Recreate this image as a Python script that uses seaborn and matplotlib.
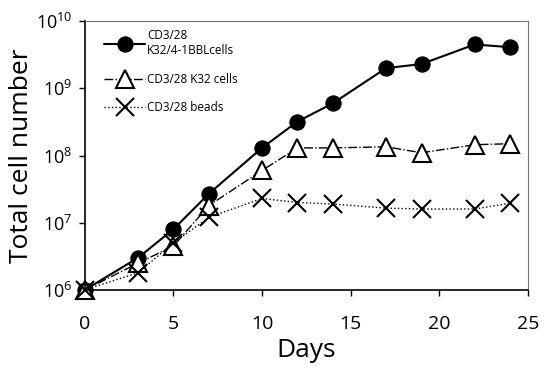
import numpy as np
import matplotlib.pyplot as plt
import matplotlib.ticker as mticker
import pandas as pd
import seaborn as sns

days = [0, 3, 5, 7, 10, 12, 14, 17, 19, 22, 24]
bbl_cells = [1.0e6, 3.0e6, 8.0e6, 2.7e7, 1.3e8, 3.2e8, 6.0e8, 2.0e9, 2.3e9, 4.5e9, 4.1e9]
k32_cells = [1.0e6, 2.5e6, 4.5e6, 1.8e7, 6.0e7, 1.3e8, 1.3e8, 1.35e8, 1.1e8, 1.45e8, 1.5e8]
beads = [1.0e6, 1.8e6, 5.0e6, 1.2e7, 2.3e7, 2.0e7, 1.9e7, 1.65e7, 1.6e7, 1.6e7, 1.95e7]
labels = ['CD3/28\nK32/4-1BBLcells', 'CD3/28 K32 cells', 'CD3/28 beads']

df = pd.DataFrame({'day': days * 3,
                   'cells': bbl_cells + k32_cells + beads,
                   'group': [labels[0]] * len(days) + [labels[1]] * len(days) + [labels[2]] * len(days)})

sns.set_style('ticks', {'text.color': 'black', 'axes.labelcolor': 'black',
                        'xtick.color': 'black', 'ytick.color': 'black'})
plt.rcParams['font.family'] = ['Open Sans', 'DejaVu Sans']

fig = plt.figure(figsize=(5.47, 3.78), dpi=100)
ax = fig.add_axes([0.155, 0.233, 0.81, 0.711])

styles = {
    labels[0]: dict(linestyle='-', marker='o', markersize=11, markerfacecolor='black',
                    markeredgecolor='black', linewidth=1.5),
    labels[1]: dict(linestyle='-.', marker='^', markersize=13, markerfacecolor='white',
                    markeredgecolor='black', markeredgewidth=1.5, linewidth=1.0),
    labels[2]: dict(linestyle=':', marker='x', markersize=13, markeredgecolor='black',
                    markeredgewidth=1.5, linewidth=1.0),
}
for g in labels:
    sub = df[df['group'] == g]
    sns.lineplot(data=sub, x='day', y='cells', ax=ax, color='black', label=g,
                 clip_on=False, **styles[g])

ax.set_yscale('log')
ax.set_xlim(0, 25)
ax.set_ylim(1e6, 1e10)
ax.xaxis.set_major_locator(mticker.MultipleLocator(5))
ax.yaxis.set_major_locator(mticker.LogLocator(base=10, numticks=10))
ax.yaxis.set_minor_locator(mticker.NullLocator())
ax.tick_params(axis='both', length=4, width=1, direction='out')
ax.tick_params(axis='x', labelsize=14, pad=14)
ax.tick_params(axis='y', labelsize=13, pad=5)

for s in ['left', 'bottom']:
    ax.spines[s].set_color('black')
    ax.spines[s].set_linewidth(1.2)
for s in ['top', 'right']:
    ax.spines[s].set_color('#777777')
    ax.spines[s].set_linewidth(0.8)

ax.set_xlabel('Days', fontsize=19, labelpad=4)
ax.set_ylabel('Total cell number', fontsize=19, labelpad=1)

leg = ax.legend(loc='upper left', frameon=False, fontsize=8.5, handlelength=3.5,
                labelspacing=1.3, borderaxespad=0.3, handletextpad=0.15,
                bbox_to_anchor=(0.025, 1.0))

fig.savefig('out.png', dpi=100)
